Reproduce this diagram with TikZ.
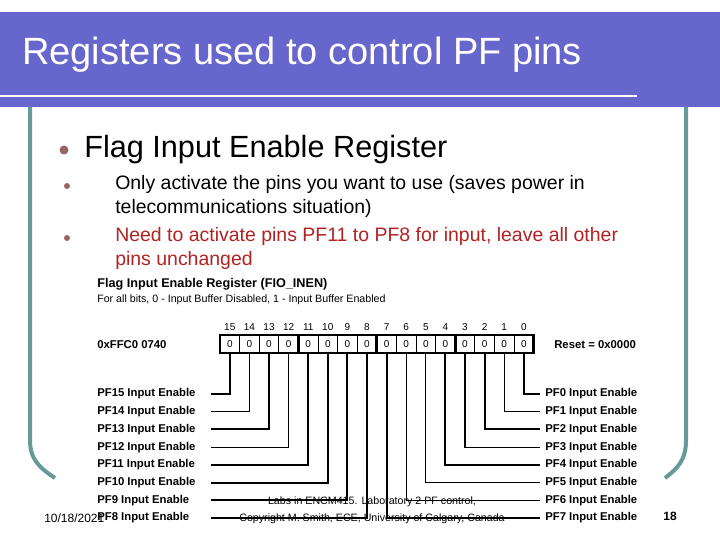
\documentclass[tikz,border=0pt]{standalone}
\usepackage{fontspec}
\setmainfont{Liberation Sans}
\definecolor{hdr}{HTML}{6666CC}
\definecolor{teal}{HTML}{669999}
\definecolor{bul}{HTML}{996666}
\definecolor{redt}{HTML}{B22222}
\begin{document}
\begin{tikzpicture}[x=0.75pt,y=-0.75pt,
  lbl/.style={font=\bfseries\fontsize{8.5}{9}\selectfont,inner sep=0},
  tk/.style={line width=1.5pt},
  tn/.style={line width=0.8pt}]
\useasboundingbox (0,0) rectangle (720,540);
\fill[hdr] (0,12) rectangle (692,107);
\fill[hdr] (692,12) rectangle (720,107);
\draw[white,line width=2.2pt] (0,96) -- (637,96);
\node[anchor=west,text=white,font=\fontsize{28.5}{32}\selectfont,inner sep=0] (title) at (22,55) {Registers used to control PF pins};
\draw[teal,line width=3pt] (30,107) -- (30,440) .. controls (30,460) and (40,468) .. (55,478);
\draw[teal,line width=3pt] (686,107) -- (686,440) .. controls (686,460) and (678,468) .. (665,478);
% bullets
\fill[bul] (64,150) circle (4.5);
\node[anchor=west,font=\fontsize{23}{26}\selectfont,inner sep=0] (b1) at (84,150) {Flag Input Enable Register};
\fill[bul] (67,186) circle (3);
\fill[bul] (67,238) circle (3);
\node[anchor=north west,align=left,font=\fontsize{14.6}{18}\selectfont,inner sep=0] (b2) at (115,175) {Only activate the pins you want to use (saves power in\\telecommunications situation)};
\node[anchor=north west,align=left,text=redt,font=\fontsize{14.6}{18}\selectfont,inner sep=0] (b3) at (115,227) {Need to activate pins PF11 to PF8 for input, leave all other\\pins unchanged};
% register
\node[anchor=west,font=\bfseries\fontsize{9.5}{11}\selectfont,inner sep=0] (rt) at (97,284) {Flag Input Enable Register (FIO\_INEN)};
\node[anchor=west,font=\fontsize{8}{10}\selectfont,inner sep=0] (rs) at (97,300) {For all bits, 0 - Input Buffer Disabled, 1 - Input Buffer Enabled};
\node[anchor=west,lbl] (addr) at (97,345) {0xFFC0 0740};
\node[anchor=west,lbl] (rst) at (554,345) {Reset = 0x0000};
\foreach \i in {0,...,15}{
  \pgfmathtruncatemacro{\b}{15-\i}
  \node[font=\fontsize{7.5}{9}\selectfont,inner sep=0] (n\b) at ({220+19.6*(\i+0.5)},327) {\b};
  \node[font=\fontsize{7.5}{9}\selectfont,inner sep=0] (c\b) at ({220+19.6*(\i+0.5)},344) {0};
  \draw[line width=0.6pt] ({220+19.6*\i},335) rectangle ({220+19.6*(\i+1)},353);
}
\foreach \k in {0,4,8,12,16}{\draw[line width=2pt] ({220+19.6*\k},335) -- ({220+19.6*\k},353);}
\draw[line width=2pt] (220,335) rectangle (533.6,353);
% left labels bits 15..8
\foreach \b/\r/\s in {15/0/tk,14/1/tn,13/2/tk,12/3/tn,11/4/tk,10/5/tk,9/6/tk,8/7/tk}{
  \pgfmathsetmacro{\xx}{220+19.6*(15-\b+0.5)}
  \pgfmathsetmacro{\yy}{394+17.7*\r}
  \node[anchor=west,lbl] (L\b) at (97,\yy) {PF\b{} Input Enable};
  \coordinate (le\b) at (211,\yy);
  \draw[\s] (c\b.center |- 0,353) -- (\xx,\yy) -- (le\b);
}
\foreach \b/\r/\s in {0/0/tk,1/1/tn,2/2/tk,3/3/tn,4/4/tk,5/5/tn,6/6/tn,7/7/tk}{
  \pgfmathsetmacro{\xx}{220+19.6*(15-\b+0.5)}
  \pgfmathsetmacro{\yy}{394+17.7*\r}
  \node[anchor=west,lbl] (R\b) at (545,\yy) {PF\b{} Input Enable};
  \coordinate (re\b) at (540,\yy);
  \draw[\s] (c\b.center |- 0,353) -- (\xx,\yy) -- (re\b);
}
% footer
\node[anchor=west,font=\fontsize{9}{11}\selectfont,inner sep=0] (date) at (44,518) {10/18/2021};
\node[align=center,font=\fontsize{8}{12.8}\selectfont,inner sep=0] (ft) at (372,510) {Labs in ENCM415. Laboratory 2 PF control,\\Copyright M. Smith, ECE, University of Calgary, Canada};
\node[font=\bfseries\fontsize{9}{11}\selectfont,inner sep=0] (pg) at (670,516) {18};
\end{tikzpicture}
\end{document}
